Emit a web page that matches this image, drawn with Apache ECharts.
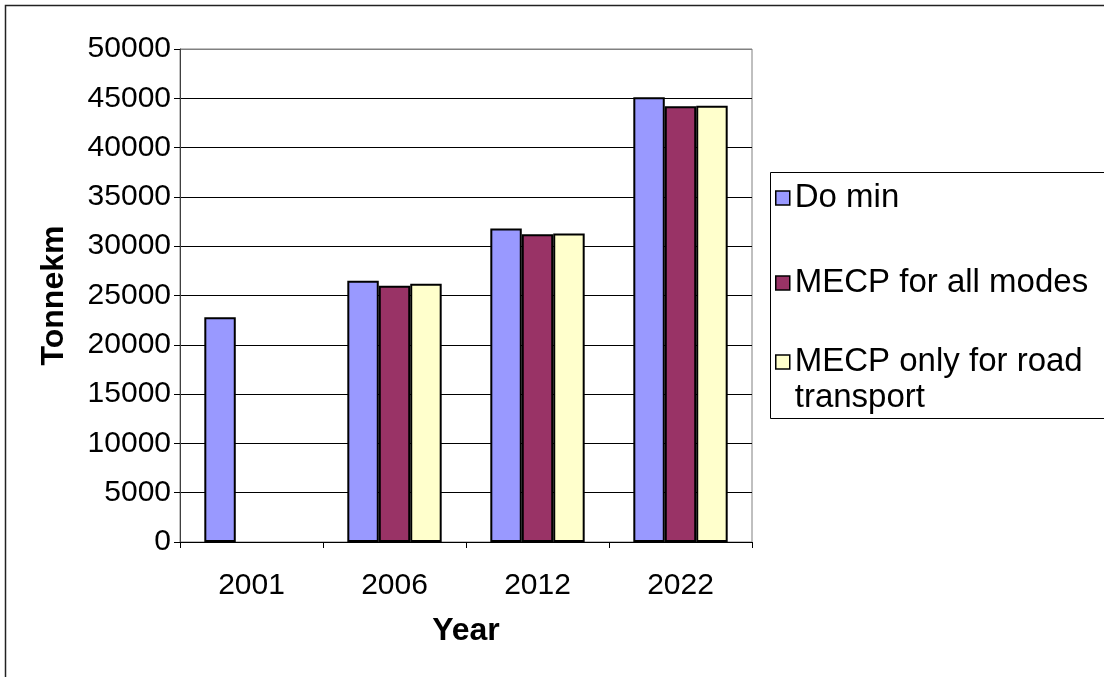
<!DOCTYPE html>
<html>
<head>
<meta charset="utf-8">
<script src="https://cdn.jsdelivr.net/npm/echarts@6/dist/echarts.min.js"></script>
<style>
  html, body { margin: 0; padding: 0; background: #fff; }
  #chart { width: 1104px; height: 677px; }
</style>
</head>
<body>
<div id="chart"></div>
<script>
// Freight volume per scenario and forecast year
const years = ['2001', '2006', '2012', '2022'];
const seriesNames = ['Do min', 'MECP for all modes', 'MECP only for road transport'];
const legendLabels = ['Do min', 'MECP for all modes', 'MECP only for road\ntransport'];
const doMin = [22800, 26500, 31800, 45100];
const mecpAllModes = [null, 26000, 31200, 44200];
const mecpRoadOnly = [null, 26200, 31300, 44250];
const yTicks = [0, 5000, 10000, 15000, 20000, 25000, 30000, 35000, 40000, 45000, 50000];

const colors = ['#9999FF', '#993366', '#FFFFCC'];
const FONT = "'Liberation Sans', Arial, sans-serif";
const FS_TICK = 30;
const FS_LEGEND = 33;
const FS_TITLE = 32;

const chart = echarts.init(document.getElementById('chart'));

function legendAt(idx, top) {
  return {
    data: [seriesNames[idx]],
    left: 775,
    top: top,
    padding: 0,
    itemWidth: 14,
    itemHeight: 14,
    selectedMode: false,
    icon: 'rect',
    itemStyle: { borderColor: '#000', borderWidth: 1.5 },
    // the two-line label gets a blank lead line so its first line sits level with the swatch
    formatter: () => (idx === 2 ? '\n' : '') + legendLabels[idx],
    textStyle: { fontFamily: FONT, fontSize: FS_LEGEND, color: '#000', lineHeight: 36 }
  };
}

const gridLineColors = yTicks.map((v, i) => (i === yTicks.length - 1 ? '#808080' : '#000'));

chart.setOption({
  animation: false,
  backgroundColor: '#fff',
  graphic: [
    { type: 'rect', z: 0, shape: { x: 5.5, y: 5.5, width: 2000, height: 2000 },
      style: { fill: 'none', stroke: '#222', lineWidth: 1.5 } },
    { type: 'rect', z: 0, shape: { x: 770.5, y: 172.5, width: 340, height: 246 },
      style: { fill: '#fff', stroke: '#000', lineWidth: 1 } }
  ],
  legend: [legendAt(0, 180), legendAt(1, 265), legendAt(2, 308)],
  grid: {
    left: 180, right: 352, top: 49, bottom: 135,
    show: true, borderColor: '#808080', borderWidth: 1, backgroundColor: '#fff'
  },
  xAxis: {
    type: 'category',
    data: years,
    name: 'Year',
    nameLocation: 'middle',
    nameGap: 73,
    nameTextStyle: { fontFamily: FONT, fontSize: FS_TITLE, fontWeight: 'bold', color: '#000' },
    axisLine: { lineStyle: { color: '#000', width: 1 } },
    axisTick: { show: true, length: 6, lineStyle: { color: '#000' } },
    axisLabel: { fontFamily: FONT, fontSize: FS_TICK, color: '#000', margin: 29 }
  },
  yAxis: {
    type: 'value',
    min: 0, max: 50000, interval: 5000,
    name: 'Tonnekm',
    nameLocation: 'middle',
    nameGap: 110,
    nameTextStyle: { fontFamily: FONT, fontSize: FS_TITLE, fontWeight: 'bold', color: '#000' },
    axisLine: { show: true, lineStyle: { color: '#404040', width: 1 } },
    axisTick: { show: true, length: 6, lineStyle: { color: '#000' } },
    axisLabel: { fontFamily: FONT, fontSize: FS_TICK, color: '#000', margin: 9,
                 formatter: v => String(v) },
    splitLine: { show: true, lineStyle: { color: gridLineColors, width: 1 } }
  },
  series: [doMin, mecpAllModes, mecpRoadOnly].map((d, i) => ({
    type: 'bar',
    name: seriesNames[i],
    data: d,
    barGap: '0%',
    barCategoryGap: '34%',
    itemStyle: { color: colors[i], borderColor: '#000', borderWidth: 2 }
  }))
});
</script>
</body>
</html>
